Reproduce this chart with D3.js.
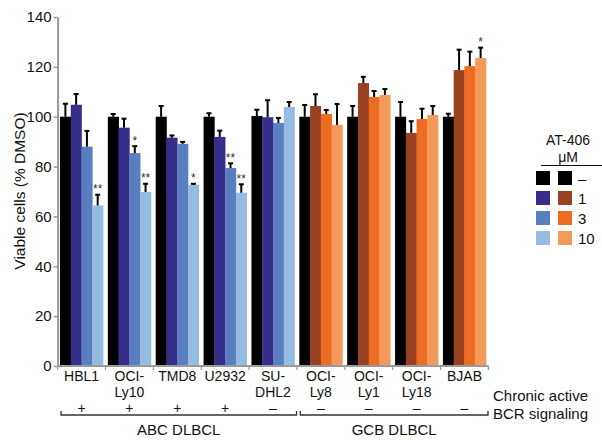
<!DOCTYPE html>
<html><head><meta charset="utf-8">
<script src="https://cdn.jsdelivr.net/npm/d3@7"></script>
<style>body{margin:0;background:#fff}svg{display:block}text{font-family:"Liberation Sans",Arial,Helvetica,sans-serif;fill:#111}</style>
</head><body><svg id="c" width="602" height="440"></svg>
<script>
const cells = [["HBL1"],["OCI-","Ly10"],["TMD8"],["U2932"],["SU-","DHL2"],["OCI-","Ly8"],["OCI-","Ly1"],["OCI-","Ly18"],["BJAB"]];
const cellIds = ["HBL1","OCI-Ly10","TMD8","U2932","SU-DHL2","OCI-Ly8","OCI-Ly1","OCI-Ly18","BJAB"];
const doses = ["–","1","3","10"];
// mean viability per dose (rows = cell lines, columns = doses)
const values = [
  [100,104.8,88.0,64.4],
  [100,95.6,85.4,69.8],
  [100,91.6,89.1,72.7],
  [100,91.9,79.4,69.5],
  [100.3,99.8,97.5,103.9],
  [100,104.3,101.1,96.7],
  [100,113.5,107.9,108.7],
  [100,93.5,99.1,100.7],
  [100,118.7,120.3,123.5]
];
const errTops = [
  [105.2,109.1,94.3,68.7],
  [101.1,99.2,88.2,73.1],
  [104.3,92.5,89.9,73.1],
  [101.4,94.4,81.3,72.9],
  [102.8,106.6,99.5,105.9],
  [104.7,109.0,102.7,105.1],
  [104.3,116.0,110.3,111.1],
  [105.9,98.2,103.2,104.3],
  [101.2,126.9,126.1,127.7]
];
const stars = [
  ["","","","**"],
  ["","","*","**"],
  ["","","","*"],
  ["","","**","**"],
  ["","","",""],
  ["","","",""],
  ["","","",""],
  ["","","",""],
  ["","","","*"]
];
const bcr = ["+","+","+","+","–","–","–","–","–"];
const subtype = ["ABC","ABC","ABC","ABC","ABC","GCB","GCB","GCB","GCB"];
const groups = [{name:"ABC DLBCL",from:0,to:4},{name:"GCB DLBCL",from:5,to:8}];
const abcColors = ["#000000","#372e8c","#5a7fc0","#95bde3"];
const gcbColors = ["#000000","#9a4122","#ee6b22","#f39a5b"];
const yTicks = [0,20,40,60,80,100,120,140];

const svg = d3.select("#c");
const y = d3.scaleLinear().domain([0,140]).range([366,17]);
const x0 = d3.scaleBand().domain(cellIds).range([57.6,488.4]).paddingInner(0.1).paddingOuter(0.05);
const x1 = d3.scaleBand().domain(doses).range([0,x0.bandwidth()]);

// bars
cellIds.forEach((c,i)=>{
  const g = svg.append("g").attr("transform",`translate(${x0(c)},0)`);
  const cols = subtype[i]==="ABC"?abcColors:gcbColors;
  doses.forEach((d,j)=>{
    g.append("rect").attr("x",x1(d)).attr("width",x1.bandwidth()+0.3)
      .attr("y",y(values[i][j])).attr("height",y(0)-y(values[i][j])).attr("fill",cols[j]);
    const cx = x1(d)+x1.bandwidth()/2;
    g.append("line").attr("x1",cx).attr("x2",cx).attr("y1",y(values[i][j])).attr("y2",y(errTops[i][j]))
      .attr("stroke","#000").attr("stroke-width",2);
    g.append("line").attr("x1",cx-2.5).attr("x2",cx+2.5).attr("y1",y(errTops[i][j])).attr("y2",y(errTops[i][j]))
      .attr("stroke","#000").attr("stroke-width",2);
    if(stars[i][j]) g.append("text").attr("x",cx).attr("y",y(errTops[i][j])-1.5)
      .attr("text-anchor","middle").attr("font-size",12).style("fill","#333").text(stars[i][j]);
  });
});

// y axis
const yAxis = svg.append("g").attr("transform","translate(57.6,0)")
  .call(d3.axisLeft(y).tickValues(yTicks).tickSize(4).tickSizeOuter(0));
yAxis.select(".domain").attr("stroke","#999").attr("stroke-width",2);
yAxis.selectAll(".tick line").attr("stroke","#999").attr("stroke-width",1.5);
yAxis.selectAll(".tick text").attr("font-size",15).attr("x",-6).style("fill","#111").attr("font-family","Liberation Sans, Arial, sans-serif");

// x axis line
svg.append("line").attr("x1",57.6).attr("x2",488.4).attr("y1",y(0)).attr("y2",y(0)).attr("stroke","#999").attr("stroke-width",2);
// separators between groups
const seps = cellIds.map(c=>x0(c)-x0.step()*x0.paddingInner()/2).concat([x0(cellIds[8])+x0.bandwidth()+x0.step()*0.05]);
seps.forEach(s=>svg.append("line").attr("x1",s).attr("x2",s).attr("y1",y(0)).attr("y2",y(0)+4).attr("stroke","#999").attr("stroke-width",1.2));

// cell labels
cellIds.forEach((c,i)=>{
  const cx = x0(c)+x0.bandwidth()/2;
  cells[i].forEach((l,k)=>svg.append("text").attr("x",cx).attr("y",381+k*16)
    .attr("text-anchor","middle").attr("font-size",14).text(l));
  svg.append("text").attr("x",cx).attr("y",413).attr("text-anchor","middle").attr("font-size",14).text(bcr[i]);
});

// brackets
groups.forEach(gr=>{
  const a = x0(cellIds[gr.from])+1, b = x0(cellIds[gr.to])+x0.bandwidth()+2;
  svg.append("path").attr("d",`M${a},411V415H${b}V411`).attr("fill","none").attr("stroke","#333").attr("stroke-width",1.3);
  svg.append("text").attr("x",(a+b)/2).attr("y",435).attr("text-anchor","middle").attr("font-size",15).text(gr.name);
});
svg.append("text").attr("x",493).attr("y",401).attr("font-size",15).text("Chronic active");
svg.append("text").attr("x",493).attr("y",419).attr("font-size",15).text("BCR signaling");

// y label
svg.append("text").attr("transform","translate(25,191) rotate(-90)").attr("text-anchor","middle").attr("font-size",15.5).text("Viable cells (% DMSO)");

// legend
svg.append("text").attr("x",568).attr("y",145).attr("text-anchor","middle").attr("font-size",14).text("AT-406");
svg.append("text").attr("x",568).attr("y",162).attr("text-anchor","middle").attr("font-size",14).text("μM");
svg.append("line").attr("x1",541).attr("x2",602).attr("y1",165.5).attr("y2",165.5).attr("stroke","#111").attr("stroke-width",1.2);
doses.forEach((d,j)=>{
  const yy = 171+j*20;
  svg.append("rect").attr("x",536).attr("y",yy).attr("width",14).attr("height",14).attr("fill",abcColors[j]);
  svg.append("rect").attr("x",558).attr("y",yy).attr("width",14).attr("height",14).attr("fill",gcbColors[j]);
  svg.append("text").attr("x",578).attr("y",yy+12.5).attr("font-size",15).text(d);
});
</script></body></html>
